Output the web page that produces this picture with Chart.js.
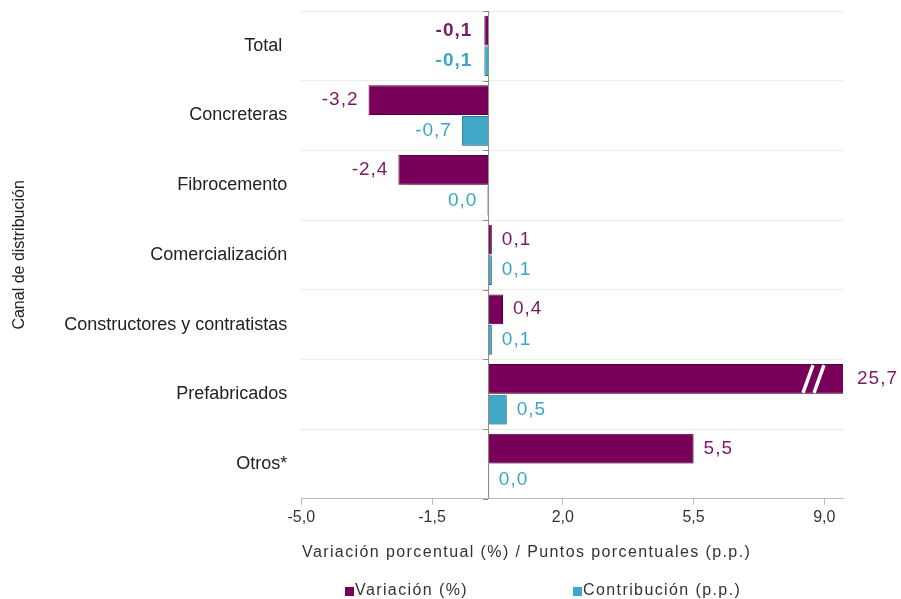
<!DOCTYPE html>
<html>
<head>
<meta charset="utf-8">
<script src="https://cdn.jsdelivr.net/npm/chart.js@4/dist/chart.umd.min.js"></script>
<style>
  html, body { margin: 0; padding: 0; background: #fff; }
  #wrap { width: 901px; height: 599px; position: relative; }
</style>
</head>
<body>
<div id="wrap"><canvas id="grafico"></canvas></div>
<script>
// Datos del gráfico
const categorias = ["Total ", "Concreteras", "Fibrocemento", "Comercialización", "Constructores y contratistas", "Prefabricados", "Otros*"];
const variacion = [-0.1, -3.2, -2.4, 0.1, 0.4, 25.7, 5.5];
const contribucion = [-0.1, -0.7, -0.02, 0.1, 0.1, 0.5, 0.02];
const nombresSeries = ["Variación (%)", "Contribución (p.p.)"];
const ticksX = [-5, -1.5, 2, 5.5, 9];
const ejeX = { min: -5, max: 9.5 };
const tituloX = "Variación porcentual (%) / Puntos porcentuales (p.p.)";
const tituloY = "Canal de distribución";

const morado = "#78005a";
const turquesa = "#40a8c6";
const textoMorado = "#7a1a63";
const textoTurquesa = "#3aa6c4";
const FUENTE = "Arial, 'Liberation Sans', sans-serif";

function formato(v) {
    if (Math.abs(v) < 0.05) return "0,0";
    return v.toFixed(1).replace(".", ",");
}

// Sombra ligera en las barras
const sombra = {
    id: "sombra",
    beforeDatasetsDraw(chart) {
        const ctx = chart.ctx;
        ctx.save();
        ctx.shadowColor = "rgba(0,0,0,0.25)";
        ctx.shadowBlur = 3;
        ctx.shadowOffsetX = 2;
        ctx.shadowOffsetY = 2;
    },
    afterDatasetsDraw(chart) {
        chart.ctx.restore();
    }
};

// Línea del cero, cortes, etiquetas, título X y leyenda
const extras = {
    id: "extras",
    afterDatasetsDraw(chart) {
        const ctx = chart.ctx;
        const area = chart.chartArea;
        const x = chart.scales.x;
        const x0 = x.getPixelForValue(0);

        // línea vertical en cero
        ctx.save();
        ctx.strokeStyle = "#8a8a8a";
        ctx.lineWidth = 1;
        ctx.beginPath();
        ctx.moveTo(x0 + 0.5, area.top);
        ctx.lineTo(x0 + 0.5, area.bottom);
        const paso = (area.bottom - area.top) / categorias.length;
        for (let i = 0; i <= categorias.length; i++) {
            const yy = Math.round(area.top + i * paso) + 0.5;
            ctx.moveTo(x0 - 5, yy);
            ctx.lineTo(x0, yy);
        }
        ctx.stroke();

        // etiquetas de datos
        const colores = [textoMorado, textoTurquesa];
        ctx.letterSpacing = "1px";
        chart.data.datasets.forEach((ds, di) => {
            const meta = chart.getDatasetMeta(di);
            meta.data.forEach((bar, i) => {
                const v = ds.data[i];
                const negrita = i === 0;
                ctx.font = (negrita ? "bold " : "") + "19px " + FUENTE;
                ctx.fillStyle = colores[di];
                ctx.textBaseline = "middle";
                if (v > ejeX.max) {
                    // barra cortada: marcas de corte
                    const xr = area.right;
                    const h = bar.height;
                    ctx.strokeStyle = "#ffffff";
                    ctx.lineWidth = 3.5;
                    ctx.beginPath();
                    ctx.moveTo(xr - 40, bar.y + h / 2 - 1);
                    ctx.lineTo(xr - 30, bar.y - h / 2 + 1);
                    ctx.moveTo(xr - 29, bar.y + h / 2 - 1);
                    ctx.lineTo(xr - 19, bar.y - h / 2 + 1);
                    ctx.stroke();
                    ctx.textAlign = "left";
                    ctx.fillText(formato(v), xr + 14, bar.y);
                } else if (v < 0) {
                    ctx.textAlign = "right";
                    ctx.fillText(formato(v), bar.x - (negrita ? 12 : 10), bar.y);
                } else {
                    ctx.textAlign = "left";
                    ctx.fillText(formato(v), bar.x + 10, bar.y);
                }
            });
        });
        ctx.restore();
    },
    afterDraw(chart) {
        const ctx = chart.ctx;
        ctx.save();
        ctx.fillStyle = "#333";
        ctx.font = "16px " + FUENTE;
        ctx.letterSpacing = "1.4px";
        ctx.textBaseline = "middle";
        ctx.textAlign = "left";
        ctx.fillText(tituloX, 302, 553);

        // leyenda
        const cols = [morado, turquesa];
        const posiciones = [345, 573];
        nombresSeries.forEach((n, i) => {
            ctx.fillStyle = cols[i];
            ctx.fillRect(posiciones[i], 587, 9, 9);
            ctx.fillStyle = "#333";
            ctx.fillText(n, posiciones[i] + 10, 591);
        });
        ctx.restore();
    }
};

const ctx = document.getElementById("grafico").getContext("2d");
new Chart(ctx, {
    type: "bar",
    data: {
        labels: categorias,
        datasets: [
            {
                label: nombresSeries[0],
                data: variacion,
                backgroundColor: morado,
                borderColor: "#5a0044",
                borderWidth: 1,
                categoryPercentage: 0.88,
                barPercentage: 0.97
            },
            {
                label: nombresSeries[1],
                data: contribucion,
                backgroundColor: turquesa,
                borderColor: "#2b7b90",
                borderWidth: 1,
                categoryPercentage: 0.88,
                barPercentage: 0.97
            }
        ]
    },
    options: {
        indexAxis: "y",
        responsive: true,
        maintainAspectRatio: false,
        animation: false,
        layout: { padding: { top: 11, right: 58, bottom: 69, left: 4 } },
        plugins: {
            legend: { display: false },
            tooltip: { enabled: false }
        },
        scales: {
            x: {
                min: ejeX.min,
                max: ejeX.max,
                ticks: {
                    color: "#333",
                    font: { family: FUENTE, size: 16 },
                    padding: 3,
                    callback: v => Number(v).toFixed(1).replace(".", ",")
                },
                afterBuildTicks(scale) {
                    scale.ticks = ticksX.map(v => ({ value: v }));
                },
                grid: { drawOnChartArea: false, drawTicks: true, tickLength: 6, color: "#bdbdbd" },
                border: { color: "#bdbdbd" }
            },
            y: {
                ticks: {
                    color: "#222",
                    font: { family: FUENTE, size: 18 },
                    padding: 0
                },
                grid: { color: "#ececec", drawTicks: true, tickLength: 14, tickColor: "rgba(0,0,0,0)" },
                border: { display: false },
                title: {
                    display: true,
                    text: tituloY,
                    color: "#222",
                    font: { family: FUENTE, size: 16 },
                    padding: { top: 6, bottom: 35 }
                }
            }
        }
    },
    plugins: [sombra, extras]
});
</script>
</body>
</html>
